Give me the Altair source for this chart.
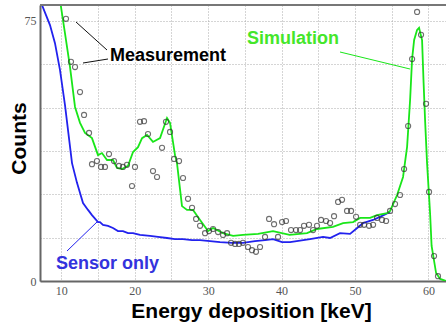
import altair as alt
import pandas as pd

# ---- data ----
sensor_x = [7.23, 7.37, 7.92, 8.46, 9.14, 9.82, 10.5, 11.46, 12.14, 12.96, 13.64, 14.18, 15.0, 15.27,
            15.68, 16.36, 17.04, 17.72, 18.4, 19.09, 19.77, 20.72, 22.09, 23.18, 24.4, 25.49, 26.58,
            27.81, 28.9, 30.26, 31.62, 33.26, 34.75, 36.38, 37.75, 38.84, 40.07, 41.16, 43.88, 45.65,
            46.6, 47.96, 49.33, 50.3, 51.1, 52.46, 53.41, 54.79]
sensor_y = [82.0, 79.6, 76.7, 73.8, 68.6, 60.9, 50.8, 34.0, 28.3, 22.5, 20.5, 19.0, 17.0, 17.0,
            16.2, 15.9, 15.3, 14.4, 14.4, 13.8, 13.8, 13.3, 13.0, 12.7, 12.4, 12.1, 12.1,
            11.8, 11.8, 11.5, 11.2, 11.0, 11.0, 11.5, 11.8, 12.1, 11.2, 11.2, 12.1, 12.7,
            12.4, 13.8, 13.6, 15.3, 16.7, 17.6, 18.5, 19.9]

sim_x = [9.75, 10.5, 11.19, 11.87, 12.55, 13.23, 14.18, 15.0, 15.54, 16.23, 17.04, 17.59, 18.27,
         19.09, 19.77, 20.45, 21.0, 21.68, 22.49, 23.45, 24.4, 24.81, 25.49, 25.76, 26.44, 27.12,
         27.94, 28.9, 29.99, 30.67, 32.03, 33.4, 34.75, 36.8, 38.84, 41.1, 43.47, 44.83, 47.0,
         48.38, 49.74, 50.7, 52.06, 53.01, 54.38, 54.79, 55.74, 56.55, 57.1, 57.51, 57.78, 58.06,
         58.46, 58.73, 59.14, 59.35, 59.55, 59.82, 60.23, 60.44, 61.05, 61.6, 62.4]
sim_y = [82.0, 71.5, 61.7, 50.2, 45.6, 42.7, 41.2, 36.3, 36.9, 34.9, 34.9, 32.6, 32.3,
         33.2, 37.2, 38.6, 41.2, 42.1, 40.1, 41.2, 47.0, 45.6, 36.3, 34.0, 21.6, 20.5,
         20.5, 17.6, 14.4, 15.3, 13.8, 13.0, 13.3, 13.6, 14.4, 13.3, 13.8, 15.0, 15.6,
         16.7, 17.0, 18.2, 18.2, 19.0, 19.6, 20.2, 24.8, 30.0, 38.7, 52.2, 64.0, 69.5,
         72.4, 73.0, 69.5, 57.1, 46.4, 34.0, 19.6, 10.1, 2.3, 0.6, 0.0]

meas_x = [10.64, 11.32, 11.87, 12.55, 13.1, 13.78, 14.18, 14.86, 15.41, 15.95, 16.5, 17.18, 17.86,
          18.4, 18.95, 19.63, 20.04, 20.72, 21.27, 21.81, 22.49, 23.04, 23.72, 24.26, 24.81, 25.36,
          26.04, 26.58, 27.26, 27.81, 28.36, 28.9, 29.58, 30.12, 30.67, 31.35, 32.03, 32.58, 33.12,
          33.67, 34.2, 34.75, 35.43, 35.98, 36.52, 37.07, 37.75, 38.3, 38.98, 39.52, 40.07, 40.61,
          41.29, 41.97, 42.52, 43.06, 43.74, 44.29, 44.83, 45.38, 46.06, 46.61, 47.15, 47.7, 48.24,
          48.92, 49.47, 50.15, 50.7, 51.24, 51.92, 52.47, 53.01, 53.69, 54.24, 54.78, 55.46, 56.14,
          56.69, 57.24, 57.78, 58.46, 59.0, 59.68, 60.09, 60.77, 61.31]
meas_y = [75.6, 63.2, 61.7, 54.5, 47.9, 42.7, 33.7, 34.6, 32.9, 32.9, 36.6, 34.6, 33.2,
          32.9, 33.5, 27.4, 32.9, 45.9, 46.1, 42.4, 31.7, 30.0, 38.4, 45.9, 43.0, 35.2,
          34.6, 29.7, 23.7, 21.1, 17.9, 15.9, 13.8, 14.4, 15.0, 14.1, 13.3, 13.8, 11.0,
          10.7, 10.7, 11.0, 9.8, 8.9, 8.4, 9.8, 12.7, 17.9, 16.4, 12.7, 17.0, 17.3,
          14.7, 14.7, 14.7, 15.9, 16.2, 14.7, 15.9, 17.6, 17.3, 16.7, 18.7, 22.8, 23.4,
          20.2, 20.2, 18.5, 16.2, 16.2, 15.9, 16.2, 18.2, 17.6, 17.3, 20.2, 22.2, 24.8,
          32.3, 44.7, 64.0, 77.6, 71.0, 51.1, 25.7, 7.2, 1.4]

x_grid = [10, 15, 20, 25, 30, 35, 40, 45, 50, 55, 60]
y_grid = [0, 12.5, 25, 37.5, 50, 62.5, 75]
x_domain = [7.1, 62.4]
y_domain = [0, 79.6]

sensor = pd.DataFrame({"x": sensor_x, "y": sensor_y})
sim = pd.DataFrame({"x": sim_x, "y": sim_y})
meas = pd.DataFrame({"x": meas_x, "y": meas_y})

W, H = 406, 276
GREEN = "#19e619"
BLUE = "#2222ee"
FONT = "Liberation Sans"
SERIF = "Liberation Serif"

xs = alt.Scale(domain=x_domain, nice=False, zero=False)
ys = alt.Scale(domain=y_domain, nice=False)

x_axis = alt.Axis(values=x_grid, labelExpr="datum.value % 10 == 0 ? datum.label : ''",
                  title="Energy deposition [keV]", titleFontSize=21, titleFont=FONT,
                  titleFontWeight="bold", titleColor="#000", titleX=211, titleY=36,
                  titleBaseline="alphabetic", titleAnchor="middle",
                  labelFont=SERIF, labelFontSize=12, labelColor="#555", labelPadding=4,
                  ticks=False, domainColor="#666", domainWidth=2,
                  grid=True, gridColor="#aaa", gridDash=[1, 2], gridWidth=1)
y_axis = alt.Axis(values=y_grid, labelExpr="datum.value == 0 || datum.value == 75 ? datum.label : ''",
                  title="Counts", titleFontSize=21, titleFont=FONT, titleFontWeight="bold",
                  titleColor="#000", titleX=-21, titleY=133, titleAngle=-90, titleBaseline="middle",
                  titleAnchor="middle",
                  labelFont=SERIF, labelFontSize=12, labelColor="#555", labelPadding=4,
                  ticks=False, domainColor="#666", domainWidth=2,
                  grid=True, gridColor="#aaa", gridDash=[1, 2], gridWidth=1)

base_x = alt.X("x:Q", scale=xs, axis=x_axis)
base_y = alt.Y("y:Q", scale=ys, axis=y_axis)

grid_layer = alt.Chart(meas).mark_point(opacity=0).encode(x=base_x, y=base_y)

blue_line = alt.Chart(sensor).mark_line(color=BLUE, strokeWidth=1.8, clip=True).encode(
    x=alt.X("x:Q", scale=xs), y=alt.Y("y:Q", scale=ys), order="x:Q")
green_line = alt.Chart(sim).mark_line(color=GREEN, strokeWidth=1.8, clip=True).encode(
    x=alt.X("x:Q", scale=xs), y=alt.Y("y:Q", scale=ys), order="x:Q")
points = alt.Chart(meas).mark_point(shape="circle", filled=False, color="#333", size=26,
                                    strokeWidth=1.1, clip=True).encode(
    x=alt.X("x:Q", scale=xs), y=alt.Y("y:Q", scale=ys))

top_border = alt.Chart(meas).mark_rule(color="#777", strokeWidth=2).encode(
    x=alt.value(0), x2=alt.value(W), y=alt.value(0))

def leader(x1, y1, x2, y2, color):
    return alt.Chart(meas.head(1)).mark_rule(color=color, strokeWidth=1).encode(
        x=alt.value(x1 - 40), y=alt.value(y1 - 5), x2=alt.value(x2 - 40), y2=alt.value(y2 - 5))

def label(txt, cx, cy, color, align="left"):
    return alt.Chart(meas.head(1)).mark_text(text=txt, font=FONT, fontSize=18, fontWeight="bold",
                                             color=color, align=align, baseline="middle").encode(
        x=alt.value(cx - 40), y=alt.value(cy - 5))

layers = [grid_layer, blue_line, green_line, points, top_border,
          leader(76, 22, 107, 50, "#111"), leader(83, 63, 108, 59, "#111"),
          leader(340, 52, 410, 69, GREEN), leader(67, 251, 98, 221, BLUE),
          label("Measurement", 110, 56, "#000"),
          label("Simulation", 247, 39, "#44e62a"),
          label("Sensor only", 56, 264, "#3333dd")]

chart = alt.layer(*layers).properties(
    width=W, height=H,
    autosize=alt.AutoSizeParams(type="none"),
    padding={"left": 40, "top": 5, "right": 0, "bottom": 45},
).configure_view(stroke=None).configure(background="white")

chart.save("out.html", embed_options={"renderer": "svg", "actions": False})
